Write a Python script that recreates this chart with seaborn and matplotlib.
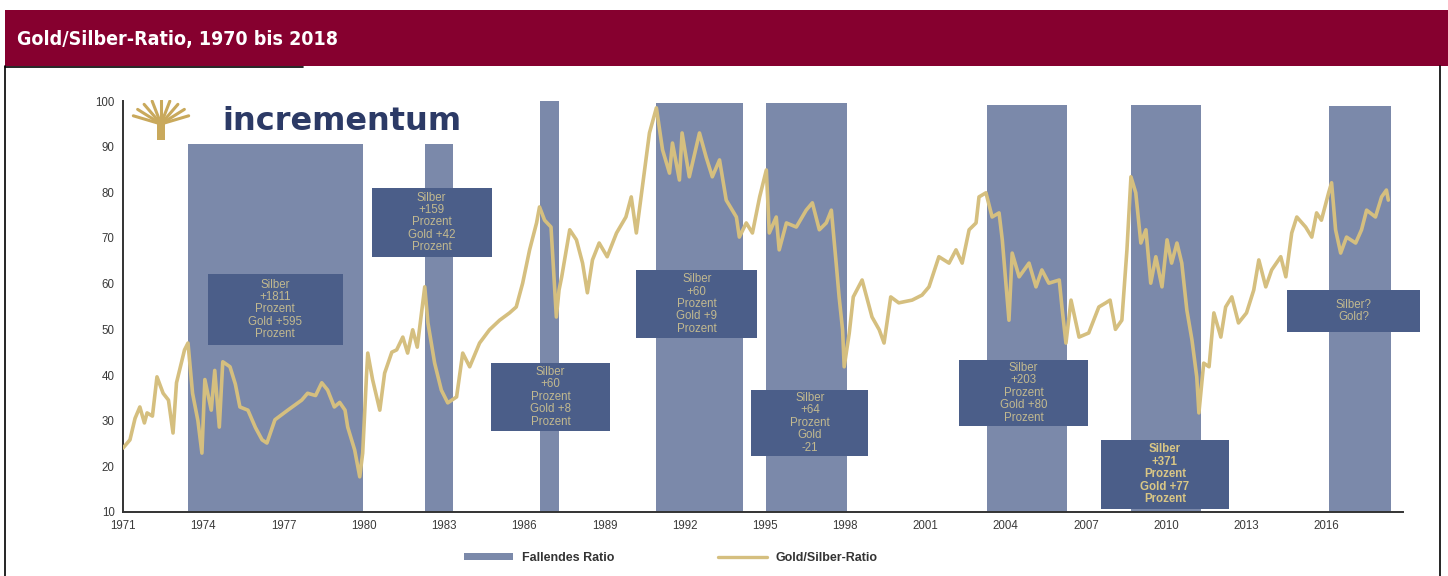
import numpy as np
import matplotlib
matplotlib.use("Agg")
import matplotlib.pyplot as plt
import seaborn as sns
from matplotlib.patches import Rectangle
from matplotlib.lines import Line2D

# gold/silver ratio
years = [1971.0, 1971.26, 1971.45, 1971.63, 1971.8, 1971.9, 1972.1, 1972.27, 1972.5, 1972.7,
         1972.87, 1973.0, 1973.3, 1973.43, 1973.6, 1973.8, 1973.95, 1974.06, 1974.3, 1974.43,
         1974.6, 1974.73, 1975.0, 1975.2, 1975.37, 1975.67, 1975.95, 1976.2, 1976.38, 1976.68,
         1977.16, 1977.68, 1977.9, 1978.2, 1978.43, 1978.65, 1978.9, 1979.1, 1979.3, 1979.4,
         1979.66, 1979.85, 1979.96, 1980.1, 1980.15, 1980.33, 1980.6, 1980.78, 1981.05, 1981.23,
         1981.46, 1981.64, 1981.83, 1982.0, 1982.28, 1982.4, 1982.65, 1982.9, 1983.14, 1983.47,
         1983.7, 1983.96, 1984.33, 1984.7, 1985.08, 1985.45, 1985.7, 1985.94, 1986.2, 1986.46,
         1986.57, 1986.76, 1987.0, 1987.2, 1987.3, 1987.4, 1987.7, 1987.95, 1988.18, 1988.36,
         1988.55, 1988.8, 1989.1, 1989.45, 1989.8, 1990.0, 1990.19, 1990.4, 1990.68, 1990.94,
         1991.17, 1991.43, 1991.54, 1991.8, 1991.9, 1992.17, 1992.55, 1992.8, 1993.03, 1993.3,
         1993.55, 1993.93, 1994.04, 1994.3, 1994.53, 1994.8, 1995.05, 1995.16, 1995.42, 1995.53,
         1995.8, 1996.17, 1996.54, 1996.77, 1997.03, 1997.29, 1997.48, 1997.66, 1997.77, 1997.9,
         1997.96, 1998.15, 1998.3, 1998.63, 1999.0, 1999.27, 1999.45, 1999.7, 2000.0, 2000.5,
         2000.87, 2001.13, 2001.5, 2001.88, 2002.14, 2002.37, 2002.63, 2002.89, 2003.0, 2003.26,
         2003.49, 2003.75, 2003.87, 2004.12, 2004.24, 2004.5, 2004.87, 2005.13, 2005.35, 2005.61,
         2006.0, 2006.1, 2006.25, 2006.44, 2006.74, 2007.1, 2007.48, 2007.74, 2007.9, 2008.1,
         2008.34, 2008.53, 2008.68, 2008.86, 2009.05, 2009.24, 2009.42, 2009.61, 2009.84, 2010.03,
         2010.2, 2010.4, 2010.58, 2010.77, 2010.96, 2011.14, 2011.22, 2011.4, 2011.6, 2011.78,
         2012.04, 2012.22, 2012.45, 2012.7, 2013.0, 2013.27, 2013.46, 2013.72, 2013.94, 2014.28,
         2014.47, 2014.69, 2014.88, 2015.21, 2015.44, 2015.62, 2015.8, 2016.07, 2016.18, 2016.33,
         2016.52, 2016.74, 2017.08, 2017.3, 2017.49, 2017.82, 2018.05, 2018.23, 2018.3]
ratio = [24.0, 25.8, 30.5, 33.0, 29.5, 31.7, 31.0, 39.6, 36.0, 34.5,
         27.3, 38.3, 45.5, 47.0, 36.0, 30.0, 22.9, 39.0, 32.3, 41.0,
         28.6, 42.9, 41.8, 38.0, 33.0, 32.3, 28.5, 25.8, 25.1, 30.2,
         32.3, 34.5, 36.0, 35.5, 38.3, 36.7, 33.0, 34.0, 32.3, 28.6,
         23.6, 17.7, 22.9, 39.6, 44.8, 39.0, 32.3, 40.4, 45.0, 45.5,
         48.3, 44.8, 49.9, 46.1, 59.3, 51.4, 42.6, 36.7, 33.9, 35.2,
         44.8, 41.8, 47.0, 49.9, 52.0, 53.6, 54.9, 60.1, 67.4, 73.3,
         76.8, 73.9, 72.4, 52.7, 58.6, 61.5, 71.8, 69.6, 64.5, 58.0,
         65.2, 68.9, 65.9, 71.1, 74.6, 79.0, 71.1, 80.5, 93.0, 98.5,
         89.3, 84.2, 90.8, 82.7, 93.0, 83.4, 93.0, 87.7, 83.4, 87.1,
         78.3, 74.6, 70.2, 73.3, 71.1, 79.0, 84.9, 71.1, 74.6, 67.4,
         73.3, 72.4, 76.1, 77.7, 71.8, 73.3, 76.1, 64.5, 57.1, 49.9,
         41.8, 49.2, 57.1, 60.8, 52.7, 49.9, 47.0, 57.1, 55.8, 56.4,
         57.5, 59.3, 65.9, 64.5, 67.4, 64.5, 71.8, 73.3, 79.0, 79.9,
         74.6, 75.5, 69.6, 52.0, 66.7, 61.5, 64.5, 59.3, 63.0, 60.1,
         60.8, 54.9, 47.0, 56.4, 48.3, 49.2, 54.9, 55.8, 56.4, 50.0,
         52.0, 67.4, 83.4, 79.9, 68.9, 71.8, 60.1, 65.9, 59.3, 69.6,
         64.5, 68.9, 64.5, 54.2, 47.7, 39.6, 31.7, 42.6, 41.8, 53.6,
         48.3, 54.9, 57.1, 51.4, 53.6, 58.6, 65.2, 59.3, 63.0, 65.9,
         61.5, 71.1, 74.6, 72.4, 70.2, 75.5, 73.9, 79.9, 82.1, 71.8,
         66.7, 70.2, 68.9, 71.8, 76.1, 74.6, 79.0, 80.5, 78.3]

# periods of falling ratio (shaded bars)
fall_start = [1973.43, 1982.28, 1986.6, 1990.94, 1995.05, 2003.3, 2008.7, 2016.07]
fall_end = [1979.96, 1983.32, 1987.3, 1994.19, 1998.07, 2006.3, 2011.3, 2018.4]
fall_top = [90.5, 90.5, 100, 99.5, 99.5, 99.2, 99.2, 99.0]

# annotation boxes: text and extent (x0, x1, y0, y1)
box_text = ["Silber\n+1811\nProzent\nGold +595\nProzent",
            "Silber\n+159\nProzent\nGold +42\nProzent",
            "Silber\n+60\nProzent\nGold +8\nProzent",
            "Silber\n+60\nProzent\nGold +9\nProzent",
            "Silber\n+64\nProzent\nGold\n-21",
            "Silber\n+203\nProzent\nGold +80\nProzent",
            "Silber\n+371\nProzent\nGold +77\nProzent",
            "Silber?\nGold?"]
box_x0 = [1974.17, 1980.30, 1984.74, 1990.19, 1994.49, 2002.25, 2007.56, 2014.50]
box_x1 = [1979.21, 1984.78, 1989.22, 1994.71, 1998.86, 2007.07, 2012.34, 2019.50]
box_y0 = [46.6, 65.9, 27.8, 48.1, 22.3, 28.9, 10.7, 49.5]
box_y1 = [62.1, 80.9, 42.7, 63.0, 36.8, 43.3, 25.8, 58.6]

tick_years = list(range(1971, 2017, 3))
tick_vals = list(range(10, 101, 10))

bar_col = '#7b89aa'
box_col = '#4b5e89'
gold_col = '#d5bf7f'
maroon = '#86002f'

sns.set_style('white')
plt.rcParams['font.family'] = ['Liberation Sans', 'DejaVu Sans']

fig = plt.figure(figsize=(14.48, 5.76), dpi=100)
W, H = 1448.0, 576.0

# header band and frame
fig.patches.append(Rectangle((5 / W, 1 - 66 / H), 1 - 5 / W, 56 / H, transform=fig.transFigure,
                             facecolor=maroon, edgecolor='none', zorder=0))
fig.lines.append(Line2D([5 / W, 5 / W], [0, 1 - 66 / H], transform=fig.transFigure, color='black', lw=1.2))
fig.lines.append(Line2D([1440 / W, 1440 / W], [0, 1 - 66 / H], transform=fig.transFigure, color='black', lw=1.2))
fig.lines.append(Line2D([5 / W, 303 / W], [1 - 67 / H, 1 - 67 / H], transform=fig.transFigure, color='black', lw=1.2))
fig.text(17 / W, 1 - 39 / H, 'Gold/Silber-Ratio, 1970 bis 2018', color='white', fontsize=14,
         fontweight='bold', va='center', ha='left',
         family=['DejaVu Sans'], fontstretch='condensed')

ax = fig.add_axes([123 / W, 1 - 512 / H, (1403 - 123) / W, (512 - 101) / H])

for s, e, t in zip(fall_start, fall_end, fall_top):
    ax.bar(s, t - 10, width=e - s, bottom=10, align='edge', color=bar_col, edgecolor='none', zorder=1)

for txt, x0, x1, y0, y1 in zip(box_text, box_x0, box_x1, box_y0, box_y1):
    ax.add_patch(Rectangle((x0, y0), x1 - x0, y1 - y0, facecolor=box_col, edgecolor='none',
                           zorder=2, clip_on=False))
    bold = '+371' in txt
    ax.text((x0 + x1) / 2, (y0 + y1) / 2, txt, ha='center', va='center', fontsize=8.3,
            color='#d9c685' if bold else '#c2b98f', fontweight='bold' if bold else 'normal',
            linespacing=1.05, zorder=3)

sns.lineplot(x=years, y=ratio, ax=ax, color=gold_col, lw=2.6, sort=False, zorder=4)

ax.set_xlim(1971, 2018.85)
ax.set_ylim(10, 100)
ax.set_xticks(tick_years)
ax.set_xticklabels([str(y) for y in tick_years])
ax.set_yticks(tick_vals)
ax.tick_params(axis='both', direction='out', length=4, width=1.2, labelsize=8.3,
               labelcolor='#3a3a3a', color='#333333', pad=2)
for side in ['top', 'right']:
    ax.spines[side].set_visible(False)
for side in ['left', 'bottom']:
    ax.spines[side].set_color('#333333')
    ax.spines[side].set_linewidth(1.4)
ax.set_facecolor('none')

# logo
fig.text(222 / W, 1 - 121 / H, 'incrementum', color='#2c3a66', fontsize=23, fontweight='bold',
         va='center', ha='left', family=['DejaVu Sans'])
lax = fig.add_axes([130 / W, 1 - 140 / H, 62 / W, 40 / H])
lax.axis('off')
lax.set_xlim(-1, 1)
lax.set_ylim(0, 1)
lax.add_patch(Rectangle((-0.12, 0.0), 0.24, 0.45, facecolor='#c9a95c', edgecolor='none'))
for ang in np.linspace(20, 160, 9):
    r = np.radians(ang)
    lax.plot([0, 0.95 * np.cos(r)], [0.4, 0.4 + 0.6 * np.sin(r)], color='#c9a95c', lw=2.2)

# legend
handles = [Rectangle((0, 0), 1, 1, facecolor=bar_col, edgecolor='none'),
           Line2D([0], [0], color=gold_col, lw=2.4)]
leg = fig.legend(handles, ['Fallendes Ratio', 'Gold/Silber-Ratio'], loc='center',
                 bbox_to_anchor=(671 / W, 1 - 558 / H), ncol=2, frameon=False,
                 handlelength=3.9, handleheight=0.5, handletextpad=0.7, columnspacing=8.3,
                 prop={'size': 9, 'weight': 'bold'})
for t in leg.get_texts():
    t.set_color('#333333')

fig.savefig('out.png', dpi=100)
